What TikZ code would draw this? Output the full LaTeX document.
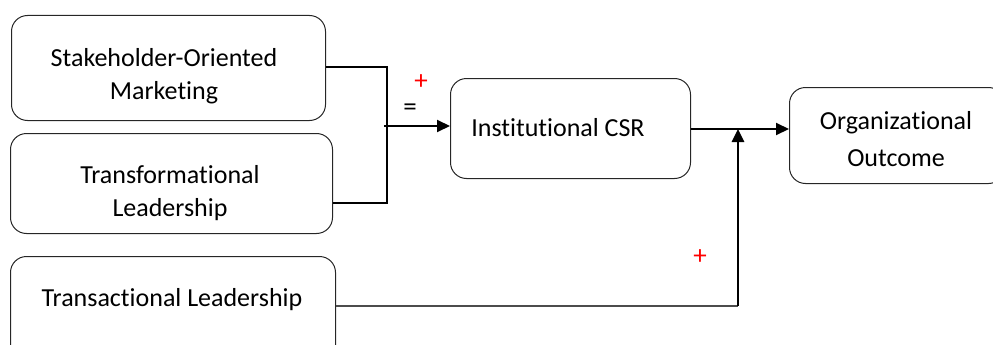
\documentclass[tikz,border=0pt]{standalone}
\usepackage{fontspec}
\setmainfont[Ligatures=NoCommon]{Carlito}
\usetikzlibrary{arrows.meta}
\begin{document}
\begin{tikzpicture}[x=1pt,y=-1pt,
  box/.style={draw=black!85,line width=1pt,rounded corners=16pt,inner sep=0pt,anchor=north west},
  txt/.style={font=\fontsize{26}{33}\selectfont,align=center,inner sep=0pt},
  link/.style={line width=1.6pt},
  arr/.style={line width=2pt,-{Triangle[length=13pt,width=12pt]}},
  sign/.style={font=\fontsize{27}{30}\selectfont,inner sep=0pt}]
\useasboundingbox (0,0) rectangle (993,345);
\clip (0,0) rectangle (993,345);
\node[box,minimum width=314pt,minimum height=105pt] (b1) at (11,15) {};
\node[box,minimum width=322pt,minimum height=100pt] (b2) at (10,133) {};
\node[box,minimum width=325pt,minimum height=110pt] (b3) at (10,256) {};
\node[box,minimum width=240pt,minimum height=100pt] (csr) at (450,78) {};
\node[box,minimum width=215pt,minimum height=96pt] (org) at (789,87) {};
\node[txt] (t1) at (164,76) {Stakeholder-Oriented\\Marketing};
\node[txt] (t2) at (170,193) {Transformational\\Leadership};
\node[txt] (t3) at (172,300) {Transactional Leadership};
\node[txt] (t4) at (558,128) {Institutional CSR};
\node[txt,font=\fontsize{26}{37}\selectfont] (t5) at (896,139) {Organizational\\Outcome};
\coordinate (j1) at (387,67);
\coordinate (j2) at (387,203);
\coordinate (m) at (384,126);
\coordinate (k) at (738,306);
\coordinate (ka) at (738,129);
\draw[link] (b1.east |- j1) -- (j1) -- (j2) -- (b2.east |- j2);
\draw[arr] (m) -- (m -| csr.west);
\draw[arr] (csr.east |- 693,129) -- (org.west |- 693,129);
\draw[line width=1.4pt,black!70] (b3.east |- k) -- (k);
\draw[line width=2.6pt,-{Triangle[length=13pt,width=12pt]}] (k) -- (ka);
\node[sign] (eq) at (410,110) {=};
\node[sign,red] (p1) at (421,82) {+};
\node[sign,red] (p2) at (700,257) {+};
\end{tikzpicture}
\end{document}
